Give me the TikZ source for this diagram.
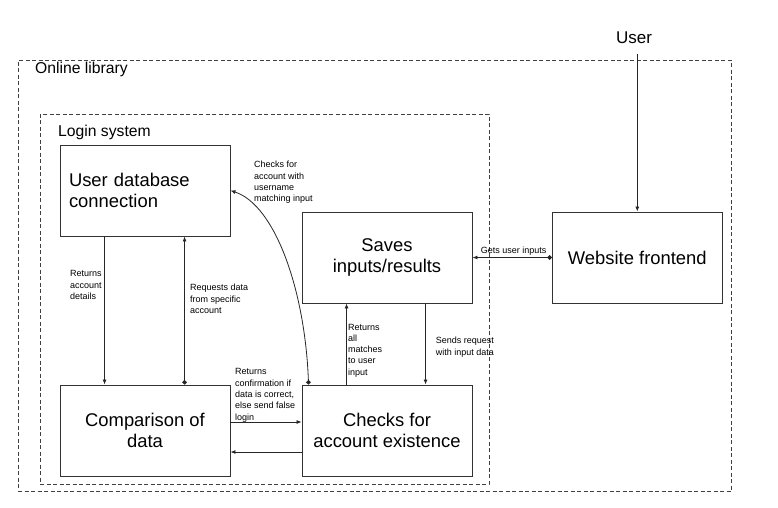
\documentclass[tikz,border=0pt]{standalone}
\usepackage{fontspec}
\setmainfont{Liberation Sans}
\usetikzlibrary{arrows.meta}
\begin{document}
\begin{tikzpicture}[x=1pt,y=-1pt,
  box/.style={draw=black!80, line width=0.9pt, minimum width=170pt, minimum height=91pt, inner sep=0pt, font=\fontsize{18.4}{21}\selectfont, align=center},
  frame/.style={draw=black!75, dash pattern=on 4pt off 2.5pt, line width=0.7pt, inner sep=0pt},
  lbl/.style={font=\fontsize{9}{11.3}\selectfont, align=left, anchor=base west, inner sep=0pt},
  title/.style={font=\fontsize{15.7}{18}\selectfont, anchor=base west, inner sep=0pt},
  arr/.style={draw=black!85, line width=0.8pt, -{Latex[length=5pt,width=4pt]}},
  dotarr/.style={draw=black!85, line width=0.8pt, {Circle[length=4.5pt]}-{Latex[length=5pt,width=4pt]}},
]
\useasboundingbox (0,0) rectangle (778,507);
% frames
\node[frame, minimum width=713pt, minimum height=431.5pt] (outer) at (374.5,275.75) {};
\node[frame, minimum width=449pt, minimum height=370pt] (inner) at (264.5,299) {};
\node[title] (tonline) at (35,73) {Online library};
\node[title] (tlogin) at (58,136) {Login system};
\node[font=\fontsize{17}{20}\selectfont, anchor=base, inner sep=0pt] (user) at (634,43) {User};
% boxes
\node[box, align=left, text width=152pt, inner xsep=9pt] (udb) at (145,190.5) {User database\\connection};
\node[box] (cmp) at (145,430.5) {Comparison of\\data};
\node[box] (chk) at (387,430.5) {Checks for\\account existence};
\node[box] (sav) at (387,257.5) {Saves\\inputs/results};
\node[box] (web) at (637.3,257.5) {Website frontend};
% connectors
\draw[arr, shorten <=11pt] (user.south -| web.north) -- (web.north);
\draw[dotarr] (web.west) -- (sav.east);
\draw[arr] ([xshift=45pt]udb.south west) -- ([xshift=45pt]cmp.north west);
\draw[dotarr] ([xshift=125pt]cmp.north west) -- ([xshift=125pt]udb.south west);
\draw[dotarr] ([xshift=7pt]chk.north west) .. controls (305,290) and (275,205) .. (udb.east);
\draw[arr] ([xshift=124pt]sav.south west) -- ([xshift=124pt]chk.north west);
\draw[arr] ([xshift=45pt]chk.north west) -- ([xshift=45pt]sav.south west);
\draw[arr] ([yshift=8.5pt]cmp.east) -- ([yshift=8.5pt]chk.west);
\draw[arr] ([yshift=-21.5pt]chk.west) -- ([yshift=-21.5pt]cmp.east);
% labels (anchored at the baseline of their last line)
\node[lbl] (l1) at (254,201.6) {Checks for\\account with\\username\\matching input};
\node[lbl] (l2) at (70,299.3) {Returns\\account\\details};
\node[lbl] (l3) at (190,313.3) {Requests data\\from specific\\account};
\node[lbl] (l4) at (348,375.2) {Returns\\all\\matches\\to user\\input};
\node[lbl] (l5) at (235,420) {Returns\\confirmation if\\data is correct,\\else send false\\login};
\node[lbl] (l6) at (435.7,355) {Sends request\\with input data};
\node[lbl] (l7) at (480.7,253) {Gets user inputs};
\end{tikzpicture}
\end{document}
